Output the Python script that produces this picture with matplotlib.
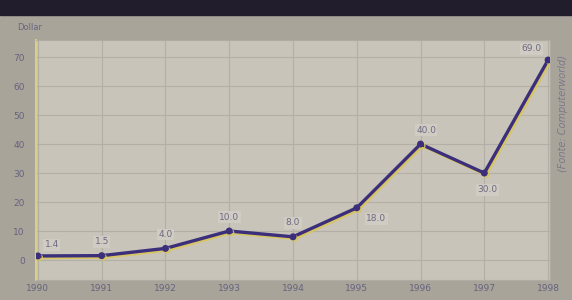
import matplotlib
matplotlib.use("Agg")
import matplotlib.pyplot as plt
from matplotlib.patches import Rectangle
import matplotlib.patheffects as pe

years = [1990, 1991, 1992, 1993, 1994, 1995, 1996, 1997, 1998]
values = [1.4, 1.5, 4.0, 10.0, 8.0, 18.0, 40.0, 30.0, 69.0]
labels = ["1.4", "1.5", "4.0", "10.0", "8.0", "18.0", "40.0", "30.0", "69.0"]
yticks = [0, 10, 20, 30, 40, 50, 60, 70]
# label offsets in points (dx, dy)
offsets = [(10, 8), (0, 10), (0, 10), (0, 10), (0, 10), (14, -8), (4, 10), (2, -12), (-12, 8)]

W, H = 572, 300
fig = plt.figure(figsize=(W/100, H/100), dpi=100)
fig.patch.set_facecolor("#a9a49a")
fig.patches.append(Rectangle((0, 1-15/H), 1, 15/H, transform=fig.transFigure,
                             color="#221d2c", zorder=0))

ax = fig.add_axes([36/W, 1-280/H, (550-36)/W, 240/H])
ax.set_facecolor("#c8c4ba")
ax.set_xlim(1989.97, 1998.03)
ax.set_ylim(-6.9, 75.9)
ax.set_xticks(years)
ax.set_xticklabels([str(y) for y in years], fontsize=6.5, color="#66627e")
ax.set_yticks(yticks)
ax.set_yticklabels([str(t) for t in yticks], fontsize=6.5, color="#66627e")
ax.tick_params(axis="x", length=0, pad=3)
ax.tick_params(axis="y", length=0, pad=8)
ax.grid(True, color="#b3aea6", linewidth=0.8)
ax.set_axisbelow(True)
for s in ax.spines.values():
    s.set_color("#b0aba3")
ax.spines["left"].set_color("#d8cf8a")
ax.spines["left"].set_linewidth(1.5)

ax.plot(years, values, color="#3b2f7c", linewidth=2.4, marker="o", markersize=4,
        solid_joinstyle="round",
        path_effects=[pe.SimpleLineShadow(offset=(1.2, -1.2), shadow_color="#d9c65a", alpha=0.9),
                      pe.Normal()], zorder=3)
for x, v, lab, (dx, dy) in zip(years, values, labels, offsets):
    ax.annotate(lab, (x, v), xytext=(dx, dy), textcoords="offset points",
                ha="center", va="center", fontsize=6.5, color="#6e6a82",
                bbox=dict(boxstyle="square,pad=0.15", fc="#d0ccc3", ec="none"), zorder=4)

fig.text(30/W, 1-28/H, "Dollar", fontsize=6, color="#6a6680", ha="center", va="center")
fig.text(563/W, 0.62, "(Fonte: Computerworld)", fontsize=7, color="#7c7888",
         rotation=90, ha="center", va="center", style="italic")

fig.savefig("out.png", dpi=100, facecolor=fig.get_facecolor())
